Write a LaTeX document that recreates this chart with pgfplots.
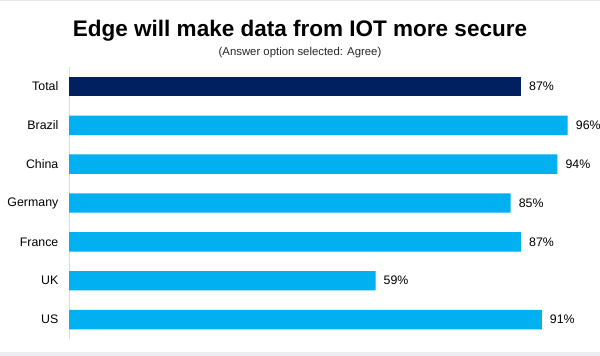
\documentclass[border=0pt]{standalone}
\usepackage{pgfplots}
\pgfplotsset{compat=1.18}
\usepackage{fontspec}
\setmainfont{Liberation Sans}
\definecolor{navy}{HTML}{002060}
\definecolor{lblue}{HTML}{00B0F0}
\definecolor{axgray}{HTML}{D9DEE5}
\definecolor{band}{HTML}{E6E9EE}
\begin{document}
\begin{tikzpicture}
\path[use as bounding box] (0bp,0bp) rectangle (600bp,356bp);
\fill[band] (0bp,354.5bp) rectangle (600bp,356bp);
\fill[band!80!white] (0bp,0bp) rectangle (600bp,4bp);
\node[font=\fontsize{22.6}{26}\selectfont\bfseries, anchor=base, inner sep=0pt] at (300bp,319.8bp) {Edge will make data from IOT more secure};
\node[font=\fontsize{11.4}{13}\selectfont, anchor=base, text=black!85, inner sep=0pt] at (300bp,300.7bp) {(Answer option selected: Agree)};
\begin{axis}[
  at={(69bp,17bp)}, anchor=south west,
  scale only axis, width=519.5bp, height=272bp,
  xmin=0, xmax=100,
  ymin=-0.5, ymax=6.5, y dir=reverse,
  axis x line=none,
  axis y line*=left,
  y axis line style={draw=axgray, line width=0.8pt},
  ytick={0,1,2,3,4,5,6},
  yticklabels={Total,Brazil,China,Germany,France,UK,US},
  major tick length=0pt,
  yticklabel style={font=\fontsize{12.4}{14}\selectfont, inner sep=0pt, xshift=-10.5bp, text=black},
  xbar, bar width=0.5, bar shift=0pt,
  /pgf/number format/assume math mode=true,
  point meta=x,
  nodes near coords={\pgfmathprintnumber{\pgfplotspointmeta}\%},
  every node near coord/.append style={font=\fontsize{12.4}{14}\selectfont, anchor=west, inner sep=0pt, xshift=8bp, text=black},
  clip=false,
]
\addplot[fill=navy, draw=none] coordinates {(87,0)};
\addplot[fill=lblue, draw=none] coordinates {(96,1) (94,2) (85,3) (87,4) (59,5) (91,6)};
\end{axis}
\end{tikzpicture}
\end{document}
